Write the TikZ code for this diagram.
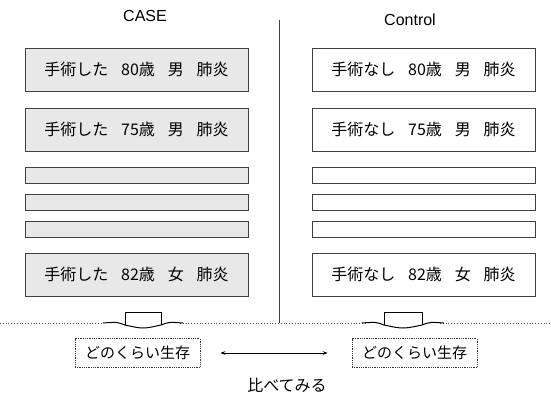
\documentclass[tikz,border=0pt]{standalone}
\usepackage{fontspec}
\setmainfont{Liberation Sans}
\newfontfamily\jp{Noto Sans CJK JP}
\usetikzlibrary{arrows.meta}

\begin{document}
\begin{tikzpicture}[x=1pt, y=-1pt,
    casebox/.style={draw=black!75, line width=0.7pt, fill=black!9, minimum width=223pt, inner sep=0pt, font=\jp\fontsize{16}{16}\selectfont},
    ctrlbox/.style={casebox, fill=white},
    bigrow/.style={minimum height=43pt},
    thinrow/.style={minimum height=16pt},
    survbox/.style={draw=black!80, densely dotted, line width=0.8pt, minimum width=125pt, minimum height=29pt, inner sep=0pt, font=\jp\fontsize{15}{15}\selectfont},
    title/.style={font=\fontsize{16}{16}\selectfont}]

  \useasboundingbox (0,0) rectangle (551,396);

  % Titles
  \node[title] (case) at (145,16) {CASE};
  \node[title] (ctrl) at (410,20) {Control};

  % CASE column
  \node[casebox, bigrow] (c1) at (136.5,69.5) {手術した\hspace{0.8em}80歳\hspace{0.8em}男\hspace{0.8em}肺炎};
  \node[casebox, bigrow] (c2) at (136.5,129.5) {手術した\hspace{0.8em}75歳\hspace{0.8em}男\hspace{0.8em}肺炎};
  \node[casebox, bigrow] (c6) at (136.5,274.5) {手術した\hspace{0.8em}82歳\hspace{0.8em}女\hspace{0.8em}肺炎};

  % Control column
  \node[ctrlbox, bigrow] (k1) at (423.5,69.5) {手術なし\hspace{0.8em}80歳\hspace{0.8em}男\hspace{0.8em}肺炎};
  \node[ctrlbox, bigrow] (k2) at (423.5,129.5) {手術なし\hspace{0.8em}75歳\hspace{0.8em}男\hspace{0.8em}肺炎};
  \node[ctrlbox, bigrow] (k6) at (423.5,274.5) {手術なし\hspace{0.8em}82歳\hspace{0.8em}女\hspace{0.8em}肺炎};

  % Empty rows
  \foreach \y [count=\i from 3] in {175,202,229} {
    \node[casebox, thinrow] (c\i) at (136.5,\y) {};
    \node[ctrlbox, thinrow] (k\i) at (423.5,\y) {};
  }

  % Divider
  \coordinate (top) at (279,20);
  \coordinate (base) at (279,323);
  \draw[black!75, line width=0.7pt] (top) -- (base);
  \draw[black!70, line width=0.8pt, dotted] (0,323) -- (103,323) (180,323) -- (365,323) (440,323) -- (551,323);

  % Block arrows
  \foreach \cx/\w in {143/18, 403/19} {
    \draw[line width=0.7pt] (\cx-\w,325) -- (\cx-\w,312) -- (\cx+\w,312) -- (\cx+\w,325);
    \draw[line width=1pt] (\cx-\w-22,323) .. controls (\cx-\w-8,322) .. (\cx-\w,325)
      .. controls (\cx,329) .. (\cx+\w,325) .. controls (\cx+\w+8,322) .. (\cx+\w+22,323);
  }

  % Survival
  \node[survbox] (lsurv) at (137.5,353) {どのくらい生存};
  \node[survbox] (rsurv) at (414.5,353) {どのくらい生存};

  \draw[{Stealth[length=5pt]}-{Stealth[length=5pt]}, line width=0.7pt, shorten <=20pt, shorten >=24pt] (lsurv) -- (rsurv);
  \node[font=\jp\fontsize{16}{16}\selectfont] (cmp) at (287,385) {比べてみる};

\end{tikzpicture}
\end{document}
